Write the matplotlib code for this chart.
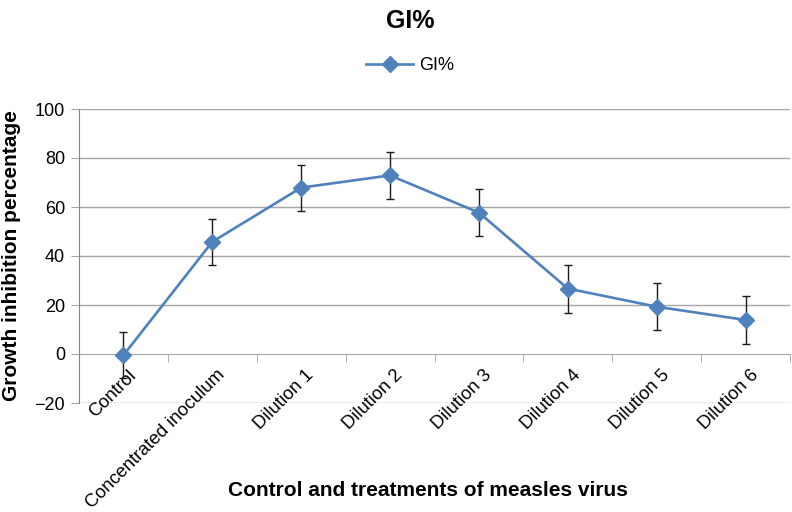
import matplotlib
matplotlib.use("Agg")
import matplotlib.pyplot as plt
import matplotlib.transforms as mtransforms
import numpy as np

categories = ["Control", "Concentrated inoculum", "Dilution 1", "Dilution 2",
              "Dilution 3", "Dilution 4", "Dilution 5", "Dilution 6"]
gi_values = [-0.5, 45.8, 67.9, 72.9, 57.7, 26.7, 19.3, 13.9]
gi_errors = [9.3, 9.3, 9.4, 9.7, 9.5, 9.8, 9.7, 9.7]
y_ticks = [-20, 0, 20, 40, 60, 80, 100]

plt.rcParams['font.family'] = ['Liberation Sans', 'DejaVu Sans']
plt.rcParams['axes.unicode_minus'] = True

fig = plt.figure(figsize=(7.92, 5.12), dpi=100)
ax = fig.add_axes([79/792, 1-403/512, (790-79)/792, (403-109)/512])

x = np.arange(len(categories))
color = '#4F81BD'
ax.errorbar(x, gi_values, yerr=gi_errors, fmt='none', ecolor='#1a1a1a',
            elinewidth=1.0, capsize=3, capthick=1.0, zorder=3)
ax.plot(x, gi_values, color=color, lw=1.9, marker='D', markersize=8.5,
        label='GI%', zorder=4)

ax.set_xlim(-0.5, len(categories) - 0.5)
ax.set_ylim(-20, 100)
ax.set_yticks(y_ticks)

grid_c = '#A6A6A6'
for t in y_ticks:
    if t != 0:
        ax.axhline(t, color=grid_c, lw=1.0, zorder=1)

for s in ['top', 'right']:
    ax.spines[s].set_visible(False)
ax.spines['left'].set_color('#868686')
ax.spines['bottom'].set_position(('data', 0))
ax.spines['bottom'].set_color(grid_c)
ax.spines['bottom'].set_zorder(1)
ax.tick_params(axis='y', length=6, color=grid_c, pad=4, labelsize=13)

ax.set_xticks(x)
ax.set_xticks(np.arange(0.5, len(categories), 1.0), minor=True)
ax.tick_params(axis='x', which='major', length=0, pad=9)
ax.tick_params(axis='x', which='minor', length=6, color=grid_c)
ax.set_xticklabels(categories, rotation=45, ha='right', va='top',
                   rotation_mode='anchor', fontsize=13.2)
offset = mtransforms.ScaledTranslation(4/100, 0, fig.dpi_scale_trans)
for lab in ax.get_xticklabels():
    lab.set_transform(lab.get_transform() + offset)

ax.set_ylabel('Growth inhibition percentage', fontsize=15, fontweight='bold', labelpad=6)
ax.yaxis.set_label_coords(-(79-12)/711, 0.5)
ax.set_xlabel('Control and treatments of measles virus', fontsize=15, fontweight='bold')
ax.xaxis.set_label_coords((428-79)/711, -(490-403)/294)
ax.xaxis.label.set_va('center')
ax.yaxis.label.set_va('center')

fig.text(410/792, 1-21/512, 'GI%', fontsize=18, fontweight='bold', ha='center', va='center')
leg = fig.legend(loc='center', bbox_to_anchor=(410/792, 1-66/512), frameon=False,
                 fontsize=13, handlelength=2.6, handletextpad=0.3)

fig.savefig('out.png', dpi=100)
